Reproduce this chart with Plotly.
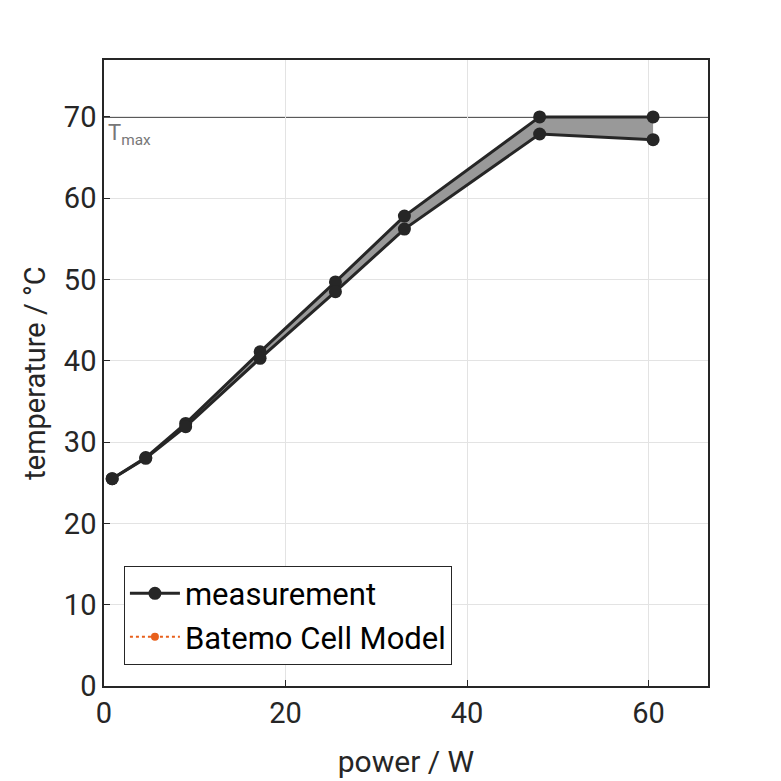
import plotly.graph_objects as go

power = [0.9, 4.6, 9.0, 17.2, 25.5, 33.1, 48.0, 60.5]
temp_upper = [25.5, 28.1, 32.3, 41.1, 49.7, 57.8, 70.0, 70.0]
temp_lower = [25.5, 28.0, 31.9, 40.3, 48.5, 56.2, 67.9, 67.2]
t_max = 70
x_ticks = [0, 20, 40, 60]
y_ticks = [0, 10, 20, 30, 40, 50, 60, 70]

dark = "#262626"
fig = go.Figure()

# shaded band between upper and lower measurement
fig.add_trace(go.Scatter(
    x=power + power[::-1], y=temp_upper + temp_lower[::-1],
    fill="toself", fillcolor="#999999", line=dict(width=0),
    mode="lines", showlegend=False, hoverinfo="skip"))

fig.add_trace(go.Scatter(
    x=power, y=temp_upper, mode="lines+markers", name="measurement",
    line=dict(color=dark, width=3), marker=dict(size=13, color=dark)))
fig.add_trace(go.Scatter(
    x=power, y=temp_lower, mode="lines+markers", showlegend=False,
    line=dict(color=dark, width=3), marker=dict(size=13, color=dark)))
fig.add_trace(go.Scatter(
    x=[None], y=[None], mode="lines+markers", name="Batemo Cell Model",
    line=dict(color="#E8601C", width=2, dash="dot"),
    marker=dict(size=8, color="#E8601C")))

fig.add_hline(y=t_max, line=dict(color="#5a5a5a", width=2), layer="below")
fig.add_annotation(x=0.0, y=t_max, xref="x", yref="y",
                   text="T<sub>max</sub>", showarrow=False,
                   xanchor="left", yanchor="top", xshift=2, yshift=-1,
                   font=dict(size=22, color="#777777"))

axis_common = dict(
    showgrid=True, gridcolor="#e3e3e3", gridwidth=1,
    showline=True, linecolor=dark, linewidth=1.5, mirror=True,
    ticks="inside", ticklen=6, tickcolor=dark,
    tickfont=dict(size=29, color=dark), zeroline=False)

fig.update_xaxes(range=[0, 66.55], tickvals=x_ticks,
                 title=dict(text="power / W", font=dict(size=30, color=dark), standoff=22),
                 **axis_common)
fig.update_yaxes(range=[0, 77], tickvals=y_ticks,
                 title=dict(text="temperature / °C", font=dict(size=29, color=dark), standoff=10),
                 **axis_common)

fig.update_layout(
    width=781, height=781,
    margin=dict(l=96, r=81, t=52, b=103),
    plot_bgcolor="white", paper_bgcolor="white",
    font=dict(family="Roboto", color=dark),
    legend=dict(x=0.033, y=0.034, xanchor="left", yanchor="bottom",
                bordercolor=dark, borderwidth=1, bgcolor="white",
                itemwidth=50,
                font=dict(size=31, color="black"), tracegroupgap=0),
)

fig.write_html("out.html")
